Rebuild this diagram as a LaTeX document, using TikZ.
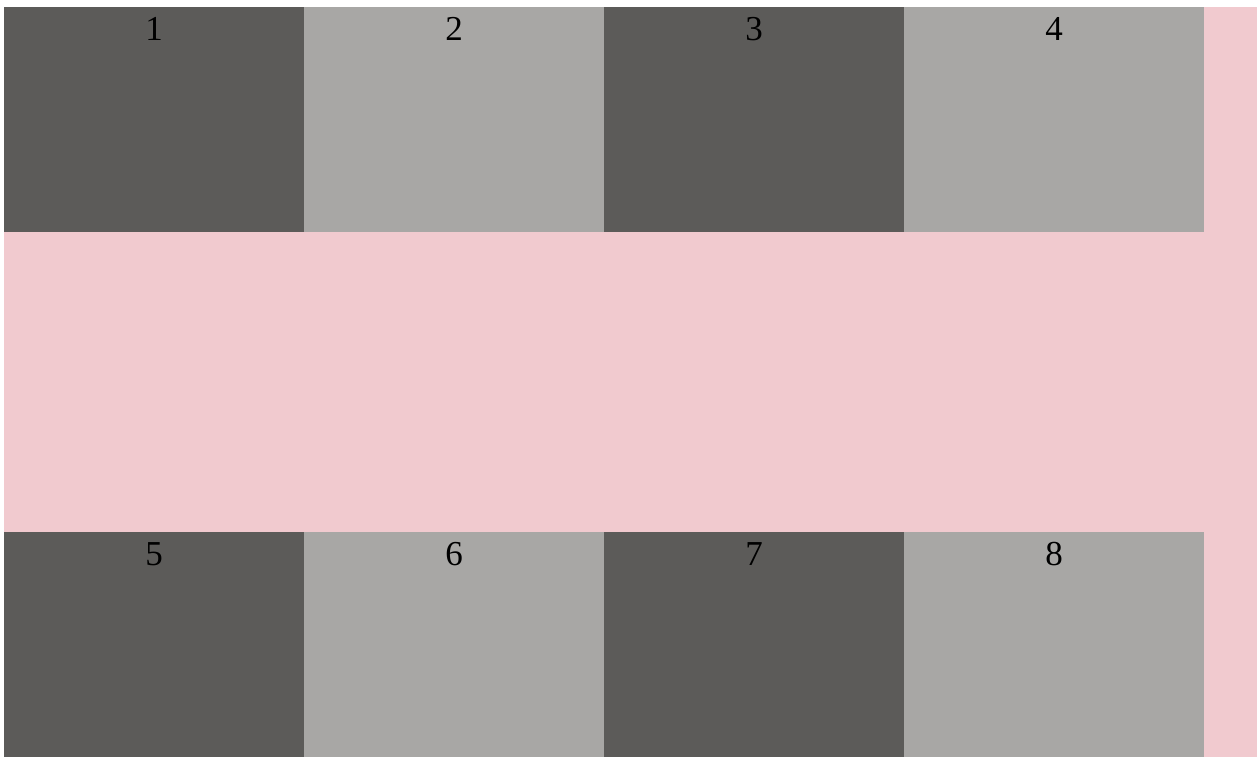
\documentclass[tikz,border=0pt]{standalone}
\usepackage{fontspec}
\setmainfont{Liberation Serif}
\definecolor{darkcell}{RGB}{92,91,89}
\definecolor{lightcell}{RGB}{168,167,165}
\definecolor{pinkbg}{RGB}{241,202,207}
\tikzset{
  cell/.style={rectangle, draw=none, inner sep=0pt, outer sep=0pt, minimum width=300pt, minimum height=225pt, anchor=north west},
  darkbox/.style={cell, fill=darkcell},
  lightbox/.style={cell, fill=lightcell},
  num/.style={anchor=base, inner sep=0pt, font=\fontsize{35pt}{35pt}\selectfont, text=black}
}
\begin{document}
\begin{tikzpicture}[x=1pt,y=-1pt]
\useasboundingbox (0,0) rectangle (1259,764);
\fill[pinkbg] (4,7) rectangle (1257,757);
\node[darkbox]  (c1) at (4,7) {};
\node[lightbox] (c2) at (304,7) {};
\node[darkbox]  (c3) at (604,7) {};
\node[lightbox] (c4) at (904,7) {};
\node[darkbox]  (c5) at (4,532) {};
\node[lightbox] (c6) at (304,532) {};
\node[darkbox]  (c7) at (604,532) {};
\node[lightbox] (c8) at (904,532) {};
\foreach \i in {1,...,8}{
  \node[num] (t\i) at ([yshift=-33pt]c\i.north) {\i};
}
\end{tikzpicture}
\end{document}
